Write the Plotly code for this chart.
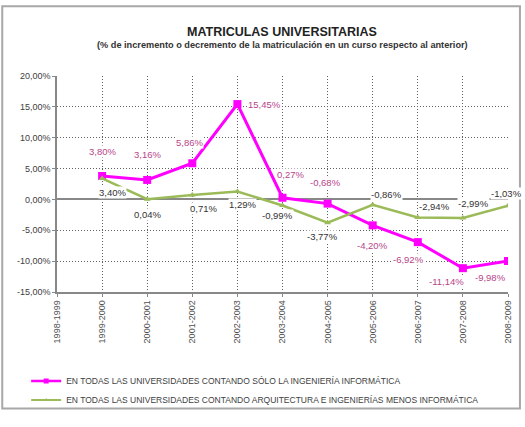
import plotly.graph_objects as go

cursos = ["1998-1999", "1999-2000", "2000-2001", "2001-2002", "2002-2003", "2003-2004",
          "2004-2005", "2005-2006", "2006-2007", "2007-2008", "2008-2009"]
informatica = [None, 3.80, 3.16, 5.86, 15.45, 0.27, -0.68, -4.20, -6.92, -11.14, -9.98]
resto = [None, 3.40, 0.04, 0.71, 1.29, -0.99, -3.77, -0.86, -2.94, -2.99, -1.03]
y_ticks = [-15, -10, -5, 0, 5, 10, 15, 20]

nombre_inf = "EN TODAS LAS UNIVERSIDADES CONTANDO SÓLO LA INGENIERÍA INFORMÁTICA"
nombre_resto = "EN TODAS LAS UNIVERSIDADES CONTANDO ARQUITECTURA E INGENIERÍAS MENOS INFORMÁTICA"

# label pixel offsets (dx, dy) so they sit like in the original
off_inf = [None, (0, -24), (0, -25), (-3, -21), (27, 0), (8, -23), (-2, -21),
           (0, 20), (-9, 17), (-16, 13), (-18, 16)]
off_resto = [None, (10, 14), (0, 15), (11, 13), (5, 13), (-5, 10), (-5, 14),
             (14, -10), (17, -11), (11, -14), (-2, -12)]

def fmt(v):
    return ("%.2f%%" % v).replace(".", ",")

x = list(range(len(cursos)))
font = "Liberation Sans, Arial, sans-serif"

fig = go.Figure()
fig.add_trace(go.Scatter(x=x, y=informatica, name=nombre_inf, mode="lines+markers",
                         line=dict(color="#FF00FF", width=3), showlegend=False,
                         marker=dict(symbol="square", size=8, color="#FF00FF")))
fig.add_trace(go.Scatter(x=x, y=resto, name=nombre_resto, mode="lines+markers",
                         line=dict(color="#9BBB59", width=2.5), showlegend=False,
                         marker=dict(symbol="triangle-up", size=6, color="#9BBB59")))
# legend entries with the small markers of the original legend
fig.add_trace(go.Scatter(x=[None], y=[None], name=nombre_inf, mode="lines+markers",
                         line=dict(color="#FF00FF", width=2.5),
                         marker=dict(symbol="square", size=5, color="#FF00FF")))
fig.add_trace(go.Scatter(x=[None], y=[None], name=nombre_resto, mode="lines+markers",
                         line=dict(color="#9BBB59", width=2),
                         marker=dict(symbol="triangle-up", size=4, color="#9BBB59")))

for serie, offs, col in [(informatica, off_inf, "#B8468A"), (resto, off_resto, "#333333")]:
    for i, v in enumerate(serie):
        if v is None:
            continue
        dx, dy = offs[i]
        fig.add_annotation(x=i, y=v, text=fmt(v), showarrow=False, xshift=dx, yshift=-dy,
                           bgcolor="white", borderpad=0,
                           font=dict(family=font, size=9.5, color=col))

# title + subtitle (positions in px converted to domain units)
fig.add_annotation(x=(283 - 57) / 453, y=(302 - 30) / 226, xref="x domain", yref="y domain",
                   xanchor="center", yanchor="middle",
                   text="<b>MATRICULAS UNIVERSITARIAS</b>",
                   showarrow=False, font=dict(family=font, size=12.5, color="#222222"))
fig.add_annotation(x=(283 - 57) / 453, y=(302 - 44) / 226, xref="x domain", yref="y domain",
                   xanchor="center", yanchor="middle",
                   text="<b>(% de incremento o decremento de la matriculación en un curso respecto al anterior)</b>",
                   showarrow=False, font=dict(family=font, size=9.2, color="#333333"))

# outer frame
fig.add_shape(type="rect", xref="paper", yref="paper",
              x0=(2 - 57) / 453, x1=(522 - 57) / 453, y0=(302 - 424) / 226, y1=(302 - 3) / 226,
              line=dict(color="#A8A8A8", width=2))

fig.update_layout(
    width=525, height=427,
    margin=dict(l=57, r=15, t=76, b=125),
    paper_bgcolor="white", plot_bgcolor="white",
    font=dict(family=font, size=9, color="#404040"),
    showlegend=True,
    legend=dict(x=(26 - 57) / 453, y=(302 - 380) / 226, xanchor="left", yanchor="top",
                font=dict(family=font, size=8.5, color="#404040"), itemwidth=30,
                bgcolor="rgba(0,0,0,0)"),
)
fig.update_xaxes(range=[0, 10], tickvals=x, ticktext=cursos, tickangle=-90,
                 showgrid=True, gridcolor="#606060", griddash="1px,2px", gridwidth=1,
                 showline=True, linecolor="#888888", linewidth=1.5, mirror=False,
                 ticks="outside", ticklen=3, tickcolor="#888888", zeroline=False,
                 tickfont=dict(size=9, color="#505050"))
fig.update_yaxes(range=[-15, 20], tickvals=y_ticks, ticktext=[fmt(v) for v in y_ticks],
                 showgrid=True, gridcolor="#606060", griddash="1px,2px", gridwidth=1,
                 showline=True, linecolor="#888888", linewidth=1.5,
                 ticks="outside", ticklen=3, tickcolor="#888888",
                 zeroline=True, zerolinecolor="#888888", zerolinewidth=1.5,
                 tickfont=dict(size=9, color="#404040"))

fig.write_html("out.html", config={"displayModeBar": False},
               post_script="document.body.style.margin='0';")
